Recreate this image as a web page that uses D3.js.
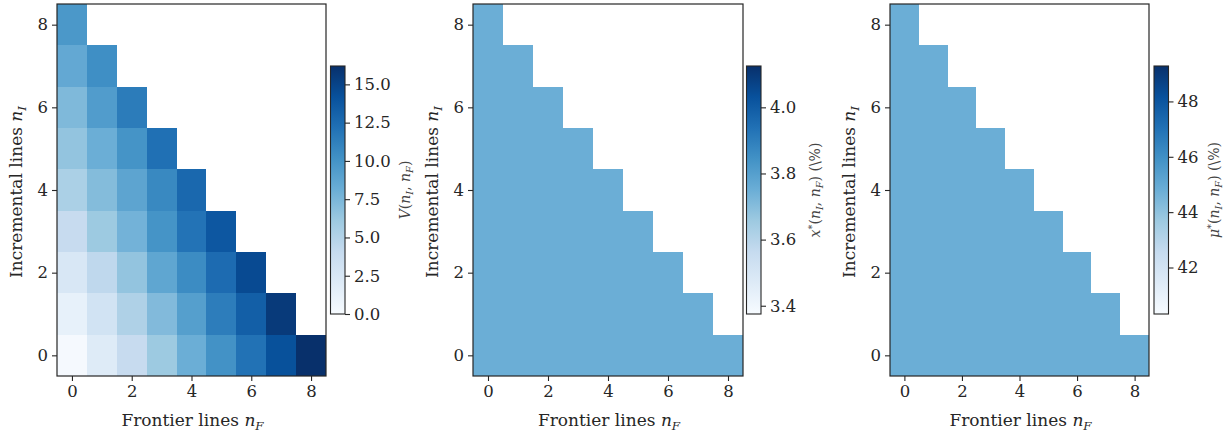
<!DOCTYPE html>
<html>
<head>
<meta charset="utf-8">
<script src="https://cdn.jsdelivr.net/npm/d3@7"></script>
<style>
  body { margin: 0; background: #fff; }
  text { font-family: "DejaVu Serif", serif; fill: #262626; }
</style>
</head>
<body>
<div id="chart"></div>
<script>
// grid axes
const frontierLines = [0, 1, 2, 3, 4, 5, 6, 7, 8];
const incrementalLines = [0, 1, 2, 3, 4, 5, 6, 7, 8];
const axisTicks = [0, 2, 4, 6, 8];

// V(nI, nF): one row per nI, columns nF = 0..(8 - nI)
const valueV = [
  [0.2, 2.0, 4.0, 6.1, 8.1, 10.1, 12.1, 14.2, 16.2],
  [1.3, 3.1, 5.2, 7.2, 9.2, 11.4, 13.3, 15.6],
  [2.5, 4.4, 6.5, 8.7, 10.5, 12.5, 14.6],
  [4.0, 6.1, 7.8, 10.0, 12.0, 13.8],
  [5.4, 7.1, 8.8, 10.7, 12.7],
  [6.5, 8.1, 10.0, 12.2],
  [7.3, 9.4, 11.5],
  [8.5, 10.3],
  [9.7]
];
// x*(nI, nF) in %
const valueX = [
  [3.75, 3.75, 3.75, 3.75, 3.75, 3.75, 3.75, 3.75, 3.75],
  [3.75, 3.75, 3.75, 3.75, 3.75, 3.75, 3.75, 3.75],
  [3.75, 3.75, 3.75, 3.75, 3.75, 3.75, 3.75],
  [3.75, 3.75, 3.75, 3.75, 3.75, 3.75],
  [3.75, 3.75, 3.75, 3.75, 3.75],
  [3.75, 3.75, 3.75, 3.75],
  [3.75, 3.75, 3.75],
  [3.75, 3.75],
  [3.75]
];
// mu*(nI, nF) in %
const valueMu = [
  [44.8, 44.8, 44.8, 44.8, 44.8, 44.8, 44.8, 44.8, 44.8],
  [44.8, 44.8, 44.8, 44.8, 44.8, 44.8, 44.8, 44.8],
  [44.8, 44.8, 44.8, 44.8, 44.8, 44.8, 44.8],
  [44.8, 44.8, 44.8, 44.8, 44.8, 44.8],
  [44.8, 44.8, 44.8, 44.8, 44.8],
  [44.8, 44.8, 44.8, 44.8],
  [44.8, 44.8, 44.8],
  [44.8, 44.8],
  [44.8]
];

// colour bar ranges and ticks
const rangeV = [0, 16.2], ticksV = [0, 2.5, 5, 7.5, 10, 12.5, 15];
const rangeX = [3.375, 4.125], ticksX = [3.4, 3.6, 3.8, 4.0];
const rangeMu = [40.32, 49.28], ticksMu = [42, 44, 46, 48];

// matplotlib "Blues"
const blues = ["#f7fbff", "#deebf7", "#c6dbef", "#9ecae1", "#6baed6",
               "#4292c6", "#2171b5", "#08519c", "#08306b"];

const W = 1228, H = 436;
const plotTop = 4, plotBottom = 376, cbTop = 66, cbBottom = 314, cbW = 14.5;

const panels = [
  {rows: valueV, range: rangeV, ticks: ticksV, fmt: d3.format(".1f"),
   left: 57, right: 326, cbX: 330.5, labelX: 405,
   label: [{t: "V", i: 1}, {t: "("}, {t: "n", i: 1}, {t: "I", i: 1, s: "sub"}, {t: ", "},
           {t: "n", i: 1}, {t: "F", i: 1, s: "sub"}, {t: ")"}]},
  {rows: valueX, range: rangeX, ticks: ticksX, fmt: d3.format(".1f"),
   left: 473, right: 743, cbX: 746.5, labelX: 815,
   label: [{t: "x", i: 1}, {t: "*", s: "sup"}, {t: "("}, {t: "n", i: 1}, {t: "I", i: 1, s: "sub"}, {t: ", "},
           {t: "n", i: 1}, {t: "F", i: 1, s: "sub"}, {t: ") (\\%)"}]},
  {rows: valueMu, range: rangeMu, ticks: ticksMu, fmt: d3.format("d"),
   left: 890, right: 1149, cbX: 1154, labelX: 1214,
   label: [{t: "μ", i: 1}, {t: "*", s: "sup"}, {t: "("}, {t: "n", i: 1}, {t: "I", i: 1, s: "sub"}, {t: ", "},
           {t: "n", i: 1}, {t: "F", i: 1, s: "sub"}, {t: ") (\\%)"}]}
];

const svg = d3.select("#chart").append("svg")
  .attr("width", W).attr("height", H);

// writes italic / sub / sup pieces into a text element
function mathText(sel, parts, size) {
  parts.forEach(p => {
    const ts = sel.append("tspan").text(p.t)
      .style("font-style", p.i ? "italic" : "normal");
    if (p.s) {
      ts.style("font-size", (size * 0.7) + "px")
        .attr("baseline-shift", p.s == "sub" ? -size * 0.22 : size * 0.38);
    }
  });
}

const defs = svg.append("defs");

panels.forEach((p, k) => {
  const x = d3.scaleLinear().domain([-0.5, 8.5]).range([p.left, p.right]);
  const y = d3.scaleLinear().domain([-0.5, 8.5]).range([plotBottom, plotTop]);
  const color = d3.scaleLinear()
    .domain(blues.map((c, i) => p.range[0] + (p.range[1] - p.range[0]) * i / 8))
    .range(blues).clamp(true);

  const cells = [];
  p.rows.forEach((row, ni) => row.forEach((v, nf) => cells.push({ni: incrementalLines[ni], nf: frontierLines[nf], v})));

  const g = svg.append("g");
  g.selectAll("rect.cell").data(cells).enter().append("rect")
    .attr("class", "cell")
    .attr("x", d => Math.round(x(d.nf - 0.5)))
    .attr("y", d => Math.round(y(d.ni + 0.5)))
    .attr("width", d => Math.round(x(d.nf + 0.5)) - Math.round(x(d.nf - 0.5)))
    .attr("height", d => Math.round(y(d.ni - 0.5)) - Math.round(y(d.ni + 0.5)))
    .attr("shape-rendering", "crispEdges")
    .attr("fill", d => color(d.v));

  // axes
  const ax = g.append("g").attr("transform", `translate(0,${plotBottom})`)
    .call(d3.axisBottom(x).tickValues(axisTicks).tickSize(5).tickPadding(4).tickSizeOuter(0));
  const ay = g.append("g").attr("transform", `translate(${p.left},0)`)
    .call(d3.axisLeft(y).tickValues(axisTicks).tickSize(5).tickPadding(4).tickSizeOuter(0));
  [ax, ay].forEach(a => {
    a.select(".domain").remove();
    a.selectAll("line").attr("stroke", "#262626").attr("stroke-width", 1.1);
    a.selectAll("text").style("font-size", "16.5px").style("font-family", "DejaVu Serif").attr("fill", "#262626");
  });

  g.append("rect")
    .attr("x", p.left).attr("y", plotTop)
    .attr("width", p.right - p.left).attr("height", plotBottom - plotTop)
    .attr("fill", "none").attr("stroke", "#262626").attr("stroke-width", 1.2);

  // axis titles
  const xl = g.append("text")
    .attr("x", (p.left + p.right) / 2 + 1).attr("y", 426)
    .attr("text-anchor", "middle").style("font-size", "17px");
  mathText(xl, [{t: "Frontier lines "}, {t: "n", i: 1}, {t: "F", i: 1, s: "sub"}], 17);

  const yx = p.left - 41, yy = (plotTop + plotBottom) / 2;
  const yl = g.append("text")
    .attr("transform", `translate(${yx + 6},${yy + 2}) rotate(-90)`)
    .attr("text-anchor", "middle").style("font-size", "17px");
  mathText(yl, [{t: "Incremental lines "}, {t: "n", i: 1}, {t: "I", i: 1, s: "sub"}], 17);

  // colour bar
  const gid = "grad" + k;
  const grad = defs.append("linearGradient").attr("id", gid)
    .attr("x1", 0).attr("y1", 1).attr("x2", 0).attr("y2", 0);
  blues.forEach((c, i) => grad.append("stop").attr("offset", i / 8).attr("stop-color", c));

  const cy = d3.scaleLinear().domain(p.range).range([cbBottom, cbTop]);
  g.append("rect")
    .attr("x", p.cbX).attr("y", cbTop).attr("width", cbW).attr("height", cbBottom - cbTop)
    .attr("fill", `url(#${gid})`).attr("stroke", "#262626").attr("stroke-width", 1.1);
  const ac = g.append("g").attr("transform", `translate(${p.cbX + cbW},0)`)
    .call(d3.axisRight(cy).tickValues(p.ticks).tickFormat(p.fmt).tickSize(5).tickPadding(4).tickSizeOuter(0));
  ac.select(".domain").remove();
  ac.selectAll("line").attr("stroke", "#262626").attr("stroke-width", 1.1);
  ac.selectAll("text").style("font-size", "16.5px").style("font-family", "DejaVu Serif").attr("fill", "#262626");

  const cl = g.append("text")
    .attr("transform", `translate(${p.labelX + 5},${(cbTop + cbBottom) / 2}) rotate(-90)`)
    .attr("text-anchor", "middle").style("font-size", "14px").style("fill", "#444");
  mathText(cl, p.label, 14);
});
</script>
</body>
</html>
